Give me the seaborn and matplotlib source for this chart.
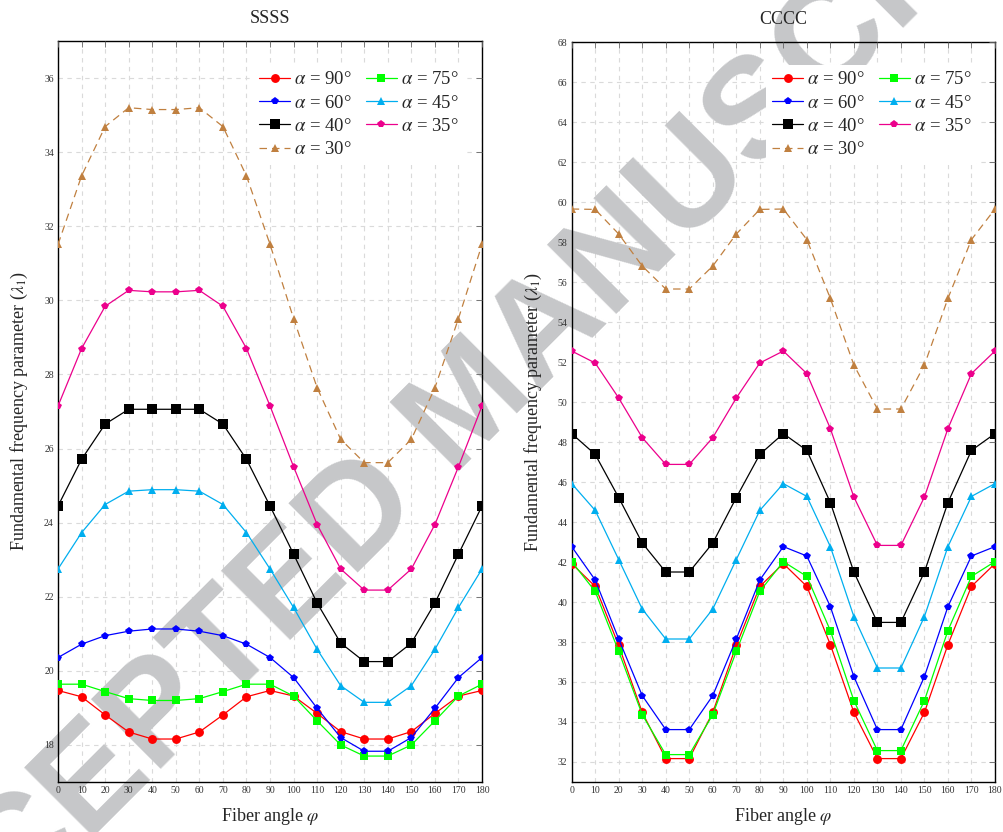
import numpy as np
import pandas as pd
import matplotlib
matplotlib.use("Agg")
import matplotlib.pyplot as plt
import seaborn as sns
from matplotlib.transforms import Bbox, TransformedBbox

# Fiber angle (degrees)
phi = [0, 10, 20, 30, 40, 50, 60, 70, 80, 90, 100, 110, 120, 130, 140, 150, 160, 170, 180]

# SSSS boundary condition: fundamental frequency parameter
ssss_a90 = [19.47, 19.30, 18.81, 18.35, 18.16, 18.16, 18.35, 18.81, 19.30, 19.47,
            19.32, 18.85, 18.36, 18.16, 18.16, 18.36, 18.85, 19.32, 19.47]
ssss_a75 = [19.64, 19.64, 19.44, 19.25, 19.20, 19.20, 19.25, 19.44, 19.64, 19.64,
            19.32, 18.65, 18.00, 17.70, 17.70, 18.00, 18.65, 19.32, 19.64]
ssss_a60 = [20.36, 20.72, 20.95, 21.07, 21.13, 21.13, 21.07, 20.95, 20.72, 20.36,
            19.82, 18.99, 18.20, 17.83, 17.83, 18.20, 18.99, 19.82, 20.36]
ssss_a45 = [22.75, 23.73, 24.49, 24.85, 24.89, 24.89, 24.85, 24.49, 23.73, 22.75,
            21.71, 20.58, 19.60, 19.15, 19.15, 19.60, 20.58, 21.71, 22.75]
ssss_a40 = [24.45, 25.71, 26.66, 27.06, 27.06, 27.06, 27.06, 26.66, 25.71, 24.45,
            23.15, 21.83, 20.75, 20.25, 20.25, 20.75, 21.83, 23.15, 24.45]
ssss_a35 = [27.15, 28.70, 29.84, 30.27, 30.23, 30.23, 30.27, 29.84, 28.70, 27.15,
            25.51, 23.95, 22.75, 22.18, 22.18, 22.75, 23.95, 25.51, 27.15]
ssss_a30 = [31.51, 33.36, 34.69, 35.20, 35.15, 35.15, 35.20, 34.69, 33.36, 31.51,
            29.51, 27.64, 26.25, 25.62, 25.62, 26.25, 27.64, 29.51, 31.51]

# CCCC boundary condition: fundamental frequency parameter
cccc_a90 = [41.92, 40.78, 37.83, 34.48, 32.17, 32.17, 34.48, 37.83, 40.78, 41.92,
            40.78, 37.87, 34.48, 32.17, 32.17, 34.48, 37.87, 40.78, 41.92]
cccc_a75 = [42.02, 40.53, 37.53, 34.37, 32.37, 32.37, 34.37, 37.53, 40.53, 42.02,
            41.28, 38.57, 35.07, 32.57, 32.57, 35.07, 38.57, 41.28, 42.02]
cccc_a60 = [42.77, 41.10, 38.15, 35.32, 33.62, 33.62, 35.32, 38.15, 41.10, 42.77,
            42.30, 39.77, 36.27, 33.62, 33.62, 36.27, 39.77, 42.30, 42.77]
cccc_a45 = [45.92, 44.58, 42.12, 39.65, 38.15, 38.15, 39.65, 42.12, 44.58, 45.92,
            45.28, 42.77, 39.27, 36.70, 36.70, 39.27, 42.77, 45.28, 45.92]
cccc_a40 = [48.42, 47.38, 45.22, 42.95, 41.50, 41.50, 42.95, 45.22, 47.38, 48.42,
            47.58, 44.97, 41.50, 38.98, 38.98, 41.50, 44.97, 47.58, 48.42]
cccc_a35 = [52.55, 51.95, 50.20, 48.22, 46.88, 46.88, 48.22, 50.20, 51.95, 52.55,
            51.42, 48.67, 45.25, 42.83, 42.83, 45.25, 48.67, 51.42, 52.55]
cccc_a30 = [59.65, 59.63, 58.40, 56.80, 55.65, 55.65, 56.80, 58.40, 59.63, 59.65,
            58.12, 55.18, 51.85, 49.65, 49.65, 51.85, 55.18, 58.12, 59.65]

alphas = [90, 75, 60, 45, 40, 35, 30]
ssss = [ssss_a90, ssss_a75, ssss_a60, ssss_a45, ssss_a40, ssss_a35, ssss_a30]
cccc = [cccc_a90, cccc_a75, cccc_a60, cccc_a45, cccc_a40, cccc_a35, cccc_a30]

colors = ["#FF0000", "#00FF00", "#0000FF", "#00AEEF", "#000000", "#EC008C", "#C08040"]
markers = ["o", "s", "p", "^", "s", "p", "^"]
msizes = [6.4, 6.4, 6.0, 5.2, 6.9, 6.0, 5.2]
styles = ["-", "-", "-", "-", "-", "-", (0, (6, 4))]

sns.set_style("white")
plt.rcParams["font.family"] = ["Liberation Serif", "DejaVu Serif"]
plt.rcParams["mathtext.fontset"] = "stix"

fig = plt.figure(figsize=(10.04, 8.32), dpi=100)
ax1 = fig.add_axes([0.0578, 0.0601, 0.4223, 0.8906])
ax2 = fig.add_axes([0.5694, 0.0601, 0.4216, 0.8894])

panels = [
    (ax1, ssss, "SSSS", (17, 37), np.arange(18, 37, 2), (0.0, 0.5), (0.960, 0.968)),
    (ax2, cccc, "CCCC", (31, 68), np.arange(32, 69, 2), (0.5, 1.0), (0.960, 0.9696)),
]

for ax, series, title, ylim, yt, clip, anchor in panels:
    frame = pd.DataFrame({"phi": np.repeat([phi], len(alphas), axis=0).ravel(),
                          "lam": np.concatenate(series),
                          "alpha": np.repeat(alphas, len(phi))})
    for i, a in enumerate(alphas):
        sub = frame[frame["alpha"] == a]
        sns.lineplot(data=sub, x="phi", y="lam", ax=ax, color=colors[i],
                     marker=markers[i], markersize=msizes[i], markeredgewidth=0,
                     linewidth=0.9, linestyle=styles[i], zorder=3 + i * 0.01,
                     label=rf"$\alpha$ = {a}°")
    ax.set_xlim(0, 180)
    ax.set_ylim(*ylim)
    ax.set_xticks(phi)
    ax.set_yticks(yt)

    # dashed grid under the watermark
    ax.grid(False)
    ax.vlines(phi, *ylim, colors="#DADADA", linestyles=(0, (4, 4)), linewidth=0.8, zorder=0.5)
    ax.hlines(yt, 0, 180, colors="#DADADA", linestyles=(0, (4, 4)), linewidth=0.8, zorder=0.5)
    ax.set_axisbelow(False)

    ax.tick_params(direction="in", length=4, width=0.6, color="#666666",
                   top=True, right=True, labelsize=7, pad=3, labelcolor="#333333")
    for s in ax.spines.values():
        s.set_linewidth(1.0)
        s.set_color("black")
        s.set_visible(True)

    ax.set_title(title, fontsize=13, pad=13)
    ax.set_xlabel(r"Fiber angle $\varphi$", fontsize=13, labelpad=8)
    ax.set_ylabel(r"Fundamental frequency parameter ($\lambda_1$)", fontsize=13, labelpad=10)

    h, l = ax.get_legend_handles_labels()
    order = [0, 2, 4, 6, 1, 3, 5]
    leg = ax.legend([h[k] for k in order], [l[k] for k in order], ncol=2,
                    loc="upper right", bbox_to_anchor=anchor, fontsize=13.5,
                    handlelength=1.65, handletextpad=0.22, columnspacing=0.75,
                    labelspacing=0.33, frameon=True, framealpha=1, borderpad=0.35,
                    borderaxespad=0)
    leg.get_frame().set_edgecolor("none")
    leg.get_frame().set_facecolor("white")
    leg.set_zorder(5)

    # watermark, split between the two panels
    wm = ax.text(0.4696, 0.5114, "ACCEPTED MANUSCRIPT", transform=fig.transFigure,
                 rotation=45, rotation_mode="anchor", ha="center", va="center",
                 fontsize=103, fontweight="bold", family="Liberation Sans",
                 color="#C6C7C9", zorder=1)
    wm.set_clip_path(None)
    wm.set_clip_box(TransformedBbox(Bbox([[clip[0], 0], [clip[1], 1]]), fig.transFigure))
    wm.set_clip_on(True)

fig.savefig("out.png", dpi=100)
